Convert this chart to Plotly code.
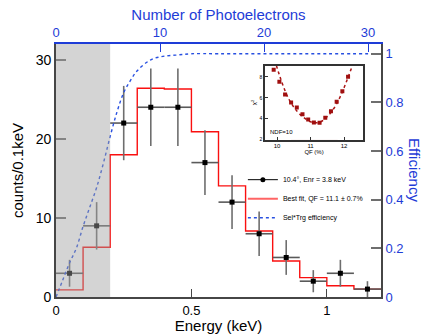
import plotly.graph_objects as go

# ---------------- data ----------------
energy = [0.05, 0.15, 0.25, 0.35, 0.45, 0.55, 0.65, 0.75, 0.85, 0.95, 1.05, 1.15]
counts = [3, 9, 22, 24, 24, 17, 12, 8, 5, 2, 3, 1]
count_err = [1.7, 3.0, 4.7, 4.9, 4.9, 4.1, 3.4, 2.8, 2.2, 1.4, 1.7, 1.0]
bin_halfwidth = [0.05] * 12

fit_edges = [0.0, 0.1, 0.2, 0.3, 0.4, 0.5, 0.6, 0.7, 0.8, 0.9, 1.0, 1.1, 1.2]
fit_counts = [0.9, 6.3, 18.0, 26.4, 26.3, 20.9, 14.05, 8.35, 4.55, 2.45, 1.43, 1.0, 1.0]

eff_energy = [0.0, 0.025, 0.05, 0.075, 0.1, 0.125, 0.15, 0.175, 0.2, 0.225, 0.25,
              0.275, 0.3, 0.35, 0.4, 0.45, 0.5, 0.6, 0.8, 1.0, 1.2]
eff_value = [0.0, 0.07, 0.14, 0.20, 0.29, 0.37, 0.45, 0.55, 0.66, 0.76, 0.84,
             0.89, 0.93, 0.975, 0.99, 0.995, 1.0, 1.0, 1.0, 1.0, 1.0]

threshold = [0.0, 0.2]  # shaded energy region (keV)

inset_qf = [9.9, 10.07, 10.24, 10.42, 10.59, 10.76, 10.93, 11.1, 11.27, 11.44,
            11.61, 11.78, 11.95, 12.12]
inset_chi2 = [8.69, 7.54, 6.33, 5.56, 5.08, 4.43, 3.92, 3.63, 3.6, 4.08,
              4.72, 5.62, 6.64, 8.03]
inset_curve_qf = [9.98, 10.1, 10.25, 10.4, 10.6, 10.8, 11.0, 11.15, 11.3, 11.5,
                  11.7, 11.9, 12.1, 12.25]
inset_curve_chi2 = [9.1, 7.9, 6.6, 5.6, 4.7, 4.1, 3.7, 3.6, 3.7, 4.2,
                    5.0, 6.2, 7.8, 9.1]
qf_band = [10.42, 11.81]

x_ticks = [0, 0.5, 1]
x_ticklabels = ["0", "0.5", "1"]
y_ticks = [0, 10, 20, 30]
eff_ticks = [0, 0.2, 0.4, 0.6, 0.8, 1]
eff_ticklabels = ["0", "0.2", "0.4", "0.6", "0.8", "1"]
pe_ticks = [0, 10, 20, 30]
inset_xticks = [10, 11, 12]
inset_yticks = [2, 4, 6, 8]

BLUE = "rgb(30,60,215)"
FONT = "Liberation Sans, Arial, sans-serif"

fig = go.Figure()

# red best-fit histogram
fig.add_trace(go.Scatter(
    x=fit_edges, y=fit_counts, mode="lines", line=dict(color="rgb(250,15,15)", width=1.4, shape="hv"),
    showlegend=False, hoverinfo="skip", xaxis="x", yaxis="y"))

# data points
fig.add_trace(go.Scatter(
    x=energy, y=counts, mode="markers",
    marker=dict(color="black", size=5, symbol="square"),
    error_y=dict(type="data", array=count_err, color="rgb(110,110,110)", thickness=1.6, width=0),
    error_x=dict(type="data", array=bin_halfwidth, color="rgb(90,90,90)", thickness=1.6, width=0),
    showlegend=False, xaxis="x", yaxis="y"))

# efficiency curve
fig.add_trace(go.Scatter(
    x=eff_energy, y=eff_value, mode="lines",
    line=dict(color="rgb(40,80,225)", width=1.4, dash="dot", shape="spline"),
    showlegend=False, xaxis="x", yaxis="y2"))

# dummy to show the top (photoelectron) axis
fig.add_trace(go.Scatter(x=[None], y=[None], xaxis="x2", yaxis="y", showlegend=False, hoverinfo="skip"))

# legend entries
fig.add_trace(go.Scatter(x=[None], y=[None], mode="lines+markers", name="10.4°, Enr = 3.8 keV",
                         line=dict(color="black", width=1), marker=dict(color="black", size=5),
                         xaxis="x", yaxis="y"))
fig.add_trace(go.Scatter(x=[None], y=[None], mode="lines", name="Best fit, QF = 11.1 ± 0.7%",
                         line=dict(color="rgb(255,100,100)", width=2),
                         xaxis="x", yaxis="y"))
fig.add_trace(go.Scatter(x=[None], y=[None], mode="lines", name="Sel*Trg efficiency",
                         line=dict(color="rgb(40,80,225)", width=1.5, dash="dot"),
                         xaxis="x", yaxis="y"))

# inset
fig.add_trace(go.Scatter(x=inset_curve_qf, y=inset_curve_chi2, mode="lines",
                         line=dict(color="rgb(170,20,20)", width=1.5, dash="dot", shape="spline"),
                         showlegend=False, xaxis="x3", yaxis="y3"))
fig.add_trace(go.Scatter(x=inset_qf, y=inset_chi2, mode="markers",
                         marker=dict(color="rgb(160,15,15)", size=4, symbol="square"),
                         showlegend=False, xaxis="x3", yaxis="y3"))

# shaded threshold region (drawn above data)
fig.add_shape(type="rect", xref="x", yref="paper", x0=threshold[0], x1=threshold[1], y0=0, y1=1,
              fillcolor="rgb(160,160,160)", opacity=0.45, line_width=0, layer="above")
# QF band in inset
fig.add_shape(type="rect", xref="x3", yref="y3 domain", x0=qf_band[0], x1=qf_band[1], y0=0, y1=1,
              fillcolor="rgb(236,220,220)", line_width=0, layer="below")

axis_line = "rgb(70,70,70)"
tick_col = "rgb(110,110,110)"

fig.update_layout(
    width=422, height=334,
    margin=dict(l=56, r=41, t=44, b=37),
    paper_bgcolor="white", plot_bgcolor="white",
    font=dict(family=FONT, size=13, color="black"),
    xaxis=dict(domain=[0, 1], range=[0, 1.2], tickvals=x_ticks, ticktext=x_ticklabels,
               ticks="inside", ticklen=8, tickcolor=axis_line, tickwidth=1.2, automargin=False,
               showline=True, linecolor=axis_line, linewidth=1.8, showgrid=False, zeroline=False,
               title=dict(text="Energy (keV)", font=dict(size=15), standoff=0), anchor="y"),
    yaxis=dict(domain=[0, 1], range=[0, 32], tickvals=y_ticks, ticks="inside", ticklen=10,
               tickcolor=tick_col, tickwidth=1.5, showline=True, linecolor=axis_line, linewidth=1.8,
               showgrid=False, zeroline=False, tickfont=dict(size=14), automargin=False,
               title=dict(text="counts/0.1keV", font=dict(size=15), standoff=8), anchor="x"),
    xaxis2=dict(overlaying="x", side="top", anchor="y", range=[0, 31.25], tickvals=pe_ticks,
                ticks="inside", ticklen=8, tickcolor=BLUE, tickwidth=1.2, automargin=False,
                showline=True, linecolor=BLUE, linewidth=1.8, showgrid=False, zeroline=False,
                tickfont=dict(color=BLUE, size=13),
                title=dict(text="Number of Photoelectrons", font=dict(color=BLUE, size=15), standoff=1)),
    yaxis2=dict(overlaying="y", side="right", anchor="x", range=[0, 1.04], tickvals=eff_ticks,
                ticktext=eff_ticklabels, ticks="inside", ticklen=10, tickcolor=tick_col, tickwidth=1.5,
                showline=True, linecolor=axis_line, linewidth=1.8, showgrid=False, zeroline=False,
                tickfont=dict(color=BLUE, size=13), automargin=False),
    xaxis3=dict(domain=[0.643, 0.945], anchor="y3", range=[9.64, 12.57], tickvals=inset_xticks,
                ticks="inside", ticklen=3, tickcolor="#333", showline=True, mirror=True,
                linecolor="rgb(50,50,50)", linewidth=1.5, showgrid=False, zeroline=False,
                tickfont=dict(size=6), title=dict(text="QF (%)", font=dict(size=6), standoff=1),
                automargin=False),
    yaxis3=dict(domain=[0.6225, 0.915], anchor="x3", range=[2, 9.1], tickvals=inset_yticks,
                ticks="inside", ticklen=3, tickcolor="#333", showline=True, mirror=True,
                linecolor="rgb(50,50,50)", linewidth=1.5, showgrid=False, zeroline=False,
                tickfont=dict(size=5), title=dict(text="χ<sup>2</sup>", font=dict(size=6), standoff=2),
                automargin=False),
    legend=dict(x=0.575, y=0.521, xanchor="left", yanchor="top", bgcolor="rgba(0,0,0,0)",
                font=dict(size=7), itemwidth=30, tracegroupgap=0),
    showlegend=True,
)

fig.add_annotation(text="Efficiency", textangle=90, xref="paper", yref="paper", x=1.103, y=0.5,
                   xanchor="center", yanchor="middle",
                   showarrow=False, font=dict(color=BLUE, size=15))
fig.add_annotation(text="NDF=10", xref="x3 domain", yref="y3 domain", x=0.03, y=0.03,
                   xanchor="left", yanchor="bottom", showarrow=False, font=dict(size=6))

fig.write_html("out.html")
